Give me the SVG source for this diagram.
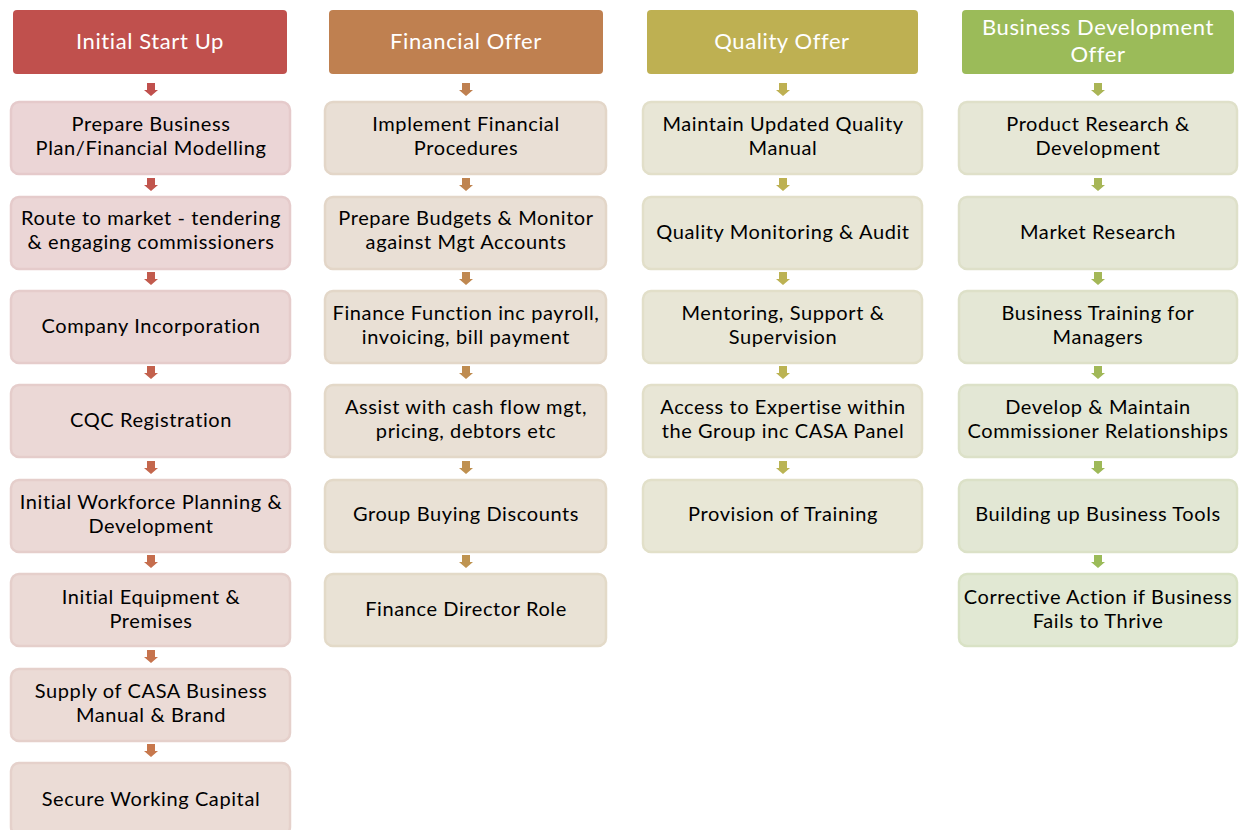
<svg xmlns="http://www.w3.org/2000/svg" width="1242" height="830" viewBox="0 0 1242 830">
<style>
.bg{fill:#ffffff}
.hd{stroke:none}
.ht{font-family:Lato,"Open Sans","Liberation Sans",sans-serif;font-size:22px;letter-spacing:0.6px;fill:#ffffff;text-anchor:middle}
.bx{stroke-width:2.5}
.t{font-family:Lato,"Open Sans","Liberation Sans",sans-serif;font-size:20px;letter-spacing:0.6px;fill:#000000;text-anchor:middle}
</style>
<defs>
<path id="arr" d="M-4,0 H4 V7 H7 L0,13 L-7,7 H-4 Z"/>
</defs>
<rect class="bg" x="0" y="0" width="1242" height="830"/>

<!-- Column 1 -->
<g id="h1"><rect class="hd" x="13" y="10" width="274" height="64" rx="4" fill="#C0504D"/><text class="ht" x="150" y="49">Initial Start Up</text></g>
<g id="n1_1"><rect class="bx" x="11" y="102" width="279" height="72" rx="8" fill="#EBD5D6" stroke="#E5CACB"/><text class="t" x="151" y="131">Prepare Business</text><text class="t" x="151" y="155">Plan/Financial Modelling</text></g>
<g id="n1_2"><rect class="bx" x="11" y="197" width="279" height="72" rx="8" fill="#EBD6D6" stroke="#E5CBCB"/><text class="t" x="151" y="225">Route to market - tendering</text><text class="t" x="151" y="249">&amp; engaging commissioners</text></g>
<g id="n1_3"><rect class="bx" x="11" y="291" width="279" height="72" rx="8" fill="#EBD7D6" stroke="#E5CCCB"/><text class="t" x="151" y="333">Company Incorporation</text></g>
<g id="n1_4"><rect class="bx" x="11" y="385" width="279" height="72" rx="8" fill="#EBD8D6" stroke="#E5CDCB"/><text class="t" x="151" y="427">CQC Registration</text></g>
<g id="n1_5"><rect class="bx" x="11" y="480" width="279" height="72" rx="8" fill="#EBD9D6" stroke="#E5CECB"/><text class="t" x="151" y="509">Initial Workforce Planning &amp;</text><text class="t" x="151" y="533">Development</text></g>
<g id="n1_6"><rect class="bx" x="11" y="574" width="279" height="72" rx="8" fill="#EBDAD6" stroke="#E5CFCB"/><text class="t" x="151" y="604">Initial Equipment &amp;</text><text class="t" x="151" y="628">Premises</text></g>
<g id="n1_7"><rect class="bx" x="11" y="669" width="279" height="72" rx="8" fill="#EBDBD6" stroke="#E5D0CB"/><text class="t" x="151" y="698">Supply of CASA Business</text><text class="t" x="151" y="722">Manual &amp; Brand</text></g>
<g id="n1_8"><rect class="bx" x="11" y="763" width="279" height="72" rx="8" fill="#EBDCD6" stroke="#E5D1CB"/><text class="t" x="151" y="806">Secure Working Capital</text></g>

<!-- Column 2 -->
<g id="h2"><rect class="hd" x="329" y="10" width="274" height="64" rx="4" fill="#BF8050"/><text class="ht" x="466" y="49">Financial Offer</text></g>
<g id="n2_1"><rect class="bx" x="325" y="102" width="281" height="72" rx="8" fill="#E9DFD5" stroke="#E3D6C8"/><text class="t" x="466" y="131">Implement Financial</text><text class="t" x="466" y="155">Procedures</text></g>
<g id="n2_2"><rect class="bx" x="325" y="197" width="281" height="72" rx="8" fill="#E9DFD5" stroke="#E3D6C8"/><text class="t" x="466" y="225">Prepare Budgets &amp; Monitor</text><text class="t" x="466" y="249">against Mgt Accounts</text></g>
<g id="n2_3"><rect class="bx" x="325" y="291" width="281" height="72" rx="8" fill="#E9E0D5" stroke="#E3D7C8"/><text class="t" x="466" y="320">Finance Function inc payroll,</text><text class="t" x="466" y="344">invoicing, bill payment</text></g>
<g id="n2_4"><rect class="bx" x="325" y="385" width="281" height="72" rx="8" fill="#E9E0D5" stroke="#E3D8C8"/><text class="t" x="466" y="414">Assist with cash flow mgt,</text><text class="t" x="466" y="438">pricing, debtors etc</text></g>
<g id="n2_5"><rect class="bx" x="325" y="480" width="281" height="72" rx="8" fill="#E9E1D5" stroke="#E3D9C8"/><text class="t" x="466" y="521">Group Buying Discounts</text></g>
<g id="n2_6"><rect class="bx" x="325" y="574" width="281" height="72" rx="8" fill="#E9E2D5" stroke="#E3DAC8"/><text class="t" x="466" y="616">Finance Director Role</text></g>

<!-- Column 3 -->
<g id="h3"><rect class="hd" x="647" y="10" width="271" height="64" rx="4" fill="#BEB052"/><text class="ht" x="782" y="49">Quality Offer</text></g>
<g id="n3_1"><rect class="bx" x="643" y="102" width="279" height="72" rx="8" fill="#E8E6D6" stroke="#E2DFC9"/><text class="t" x="783" y="131">Maintain Updated Quality</text><text class="t" x="783" y="155">Manual</text></g>
<g id="n3_2"><rect class="bx" x="643" y="197" width="279" height="72" rx="8" fill="#E8E6D6" stroke="#E2DFC9"/><text class="t" x="783" y="239">Quality Monitoring &amp; Audit</text></g>
<g id="n3_3"><rect class="bx" x="643" y="291" width="279" height="72" rx="8" fill="#E8E6D6" stroke="#E2DFC9"/><text class="t" x="783" y="320">Mentoring, Support &amp;</text><text class="t" x="783" y="344">Supervision</text></g>
<g id="n3_4"><rect class="bx" x="643" y="385" width="279" height="72" rx="8" fill="#E8E6D6" stroke="#E2DFC9"/><text class="t" x="783" y="414">Access to Expertise within</text><text class="t" x="783" y="438">the Group inc CASA Panel</text></g>
<g id="n3_5"><rect class="bx" x="643" y="480" width="279" height="72" rx="8" fill="#E8E7D6" stroke="#E2E0C9"/><text class="t" x="783" y="521">Provision of Training</text></g>

<!-- Column 4 -->
<g id="h4"><rect class="hd" x="962" y="10" width="272" height="64" rx="4" fill="#9BBB59"/><text class="ht" x="1098" y="35">Business Development</text><text class="ht" x="1098" y="62">Offer</text></g>
<g id="n4_1"><rect class="bx" x="959" y="102" width="278" height="72" rx="8" fill="#E6E7D6" stroke="#DFE0C9"/><text class="t" x="1098" y="131">Product Research &amp;</text><text class="t" x="1098" y="155">Development</text></g>
<g id="n4_2"><rect class="bx" x="959" y="197" width="278" height="72" rx="8" fill="#E5E7D6" stroke="#DEE0C9"/><text class="t" x="1098" y="239">Market Research</text></g>
<g id="n4_3"><rect class="bx" x="959" y="291" width="278" height="72" rx="8" fill="#E4E7D5" stroke="#DDE0C8"/><text class="t" x="1098" y="320">Business Training for</text><text class="t" x="1098" y="344">Managers</text></g>
<g id="n4_4"><rect class="bx" x="959" y="385" width="278" height="72" rx="8" fill="#E3E7D5" stroke="#DCE1C8"/><text class="t" x="1098" y="414">Develop &amp; Maintain</text><text class="t" x="1098" y="438">Commissioner Relationships</text></g>
<g id="n4_5"><rect class="bx" x="959" y="480" width="278" height="72" rx="8" fill="#E2E7D4" stroke="#DBE1C7"/><text class="t" x="1098" y="521">Building up Business Tools</text></g>
<g id="n4_6"><rect class="bx" x="959" y="574" width="278" height="72" rx="8" fill="#E1E8D3" stroke="#D9E2C5"/><text class="t" x="1098" y="604">Corrective Action if Business</text><text class="t" x="1098" y="628">Fails to Thrive</text></g>

<!-- Connectors -->
<g id="connectors">
<use href="#arr" x="151" y="83" fill="#C0504D"/>
<use href="#arr" x="151" y="178" fill="#C1554D"/>
<use href="#arr" x="151" y="272" fill="#C25B4D"/>
<use href="#arr" x="151" y="366" fill="#C3614D"/>
<use href="#arr" x="151" y="461" fill="#C4674D"/>
<use href="#arr" x="151" y="555" fill="#C56D4D"/>
<use href="#arr" x="151" y="650" fill="#C6734D"/>
<use href="#arr" x="151" y="744" fill="#C7784D"/>

<use href="#arr" x="466" y="83" fill="#BF8050"/>
<use href="#arr" x="466" y="178" fill="#BF8450"/>
<use href="#arr" x="466" y="272" fill="#BF8850"/>
<use href="#arr" x="466" y="366" fill="#BF8C50"/>
<use href="#arr" x="466" y="461" fill="#BF9050"/>
<use href="#arr" x="466" y="555" fill="#BF9450"/>

<use href="#arr" x="783" y="83" fill="#BEB052"/>
<use href="#arr" x="783" y="178" fill="#BDB152"/>
<use href="#arr" x="783" y="272" fill="#BCB253"/>
<use href="#arr" x="783" y="366" fill="#BBB353"/>
<use href="#arr" x="783" y="461" fill="#BAB454"/>

<use href="#arr" x="1098" y="83" fill="#AAB556"/>
<use href="#arr" x="1098" y="178" fill="#A7B657"/>
<use href="#arr" x="1098" y="272" fill="#A4B757"/>
<use href="#arr" x="1098" y="366" fill="#A1B858"/>
<use href="#arr" x="1098" y="461" fill="#9EB958"/>
<use href="#arr" x="1098" y="555" fill="#9BBB59"/>
</g>
</svg>
